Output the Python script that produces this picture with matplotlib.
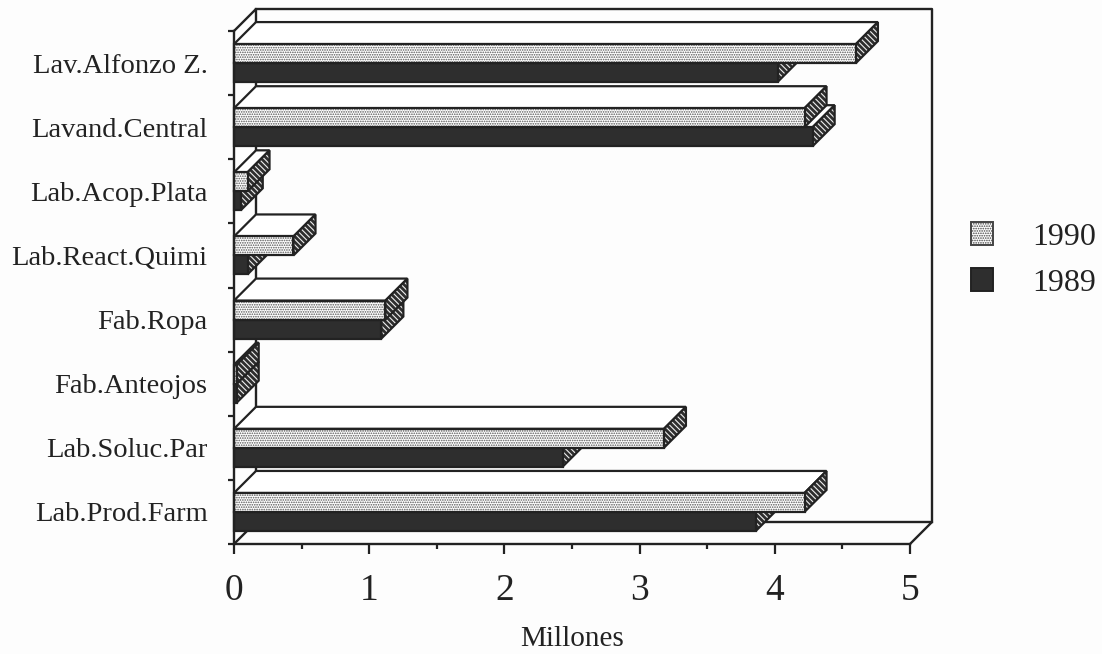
import matplotlib
matplotlib.use('Agg')
import matplotlib.pyplot as plt
from matplotlib.patches import Patch

plt.rcParams['font.family'] = ['Liberation Serif', 'DejaVu Serif']
plt.rcParams['hatch.linewidth'] = 0.8

# de arriba hacia abajo, como en el original
categorias = ['Lav.Alfonzo Z.', 'Lavand.Central', 'Lab.Acop.Plata', 'Lab.React.Quimi',
              'Fab.Ropa', 'Fab.Anteojos', 'Lab.Soluc.Par', 'Lab.Prod.Farm']
valores_1990 = [4.60, 4.22, 0.10, 0.44, 1.12, 0.02, 3.18, 4.22]
valores_1989 = [4.02, 4.28, 0.05, 0.10, 1.09, 0.02, 2.43, 3.86]
ticks_x = [0, 1, 2, 3, 4, 5]

W, H = 1102, 654
IZQ, DER, ARR, ABA = 234, 910, 31, 544
NEGRO = '#222222'
OSCURO = '#2e2e2e'
FONDO = '#fdfdfd'

fig = plt.figure(figsize=(W/100, H/100), dpi=100, facecolor=FONDO)
ax = fig.add_axes([IZQ/W, 1 - ABA/H, (DER-IZQ)/W, (ABA-ARR)/H])
ax.set_xlim(0, 5)
ax.set_ylim(0, 8)
ax.patch.set_visible(False)

# profundidad del efecto 3D, en unidades de datos
dx = 22 / ((DER-IZQ)/5)
dy = 22 / ((ABA-ARR)/8)
alto = 0.296


def linea(xs, ys, lw=1.7, z=1):
    ax.plot(xs, ys, color=NEGRO, lw=lw, clip_on=False, zorder=z, solid_capstyle='projecting')


def caja(v, y0, frente, z):
    y1 = y0 + alto
    # tapa
    ax.fill([0, v, v+dx, dx], [y1, y1, y1+dy, y1+dy], facecolor='white', edgecolor=NEGRO,
            lw=1.6, clip_on=False, zorder=z)
    # costado rayado
    ax.fill([v, v+dx, v+dx, v], [y0, y0+dy, y1+dy, y1], facecolor=OSCURO, edgecolor='#eeeeee',
            hatch='\\\\\\\\\\\\', lw=0, clip_on=False, zorder=z)
    ax.fill([v, v+dx, v+dx, v], [y0, y0+dy, y1+dy, y1], fill=False, edgecolor=NEGRO,
            lw=1.6, clip_on=False, zorder=z)
    # frente
    if frente == 'claro':
        ax.barh(y0, v, height=alto, align='edge', facecolor='white', edgecolor='#555555',
                hatch='.......', lw=0, clip_on=False, zorder=z)
        ax.barh(y0, v, height=alto, align='edge', fill=False, edgecolor=NEGRO, lw=1.6,
                clip_on=False, zorder=z)
    else:
        ax.barh(y0, v, height=alto, align='edge', facecolor=OSCURO, edgecolor=NEGRO, lw=1.6,
                clip_on=False, zorder=z)


# paredes del fondo y piso
linea([dx, 5+dx, 5+dx], [8+dy, 8+dy, dy], z=1)
linea([0, dx, dx], [8, 8+dy, dy], z=1)
linea([0, dx, 5+dx, 5], [0, dy, dy, 0], z=1)

z = 2
for i, nombre in enumerate(categorias):
    centro = 7.5 - i
    caja(valores_1989[i], centro - alto, 'oscuro', z)
    caja(valores_1990[i], centro, 'claro', z + 1)
    z += 2

for lado in ['top', 'right']:
    ax.spines[lado].set_visible(False)
for lado in ['left', 'bottom']:
    ax.spines[lado].set_linewidth(1.7)
    ax.spines[lado].set_color(NEGRO)
    ax.spines[lado].set_zorder(50)

ax.set_xticks(ticks_x)
ax.set_xticks([0.5, 1.5, 2.5, 3.5, 4.5], minor=True)
ax.set_yticks(range(9))
ax.set_yticklabels([])
ax.set_yticks([7.5 - i for i in range(8)], minor=True)
ax.set_yticklabels(categorias, minor=True, fontsize=20.5, color=NEGRO)
ax.tick_params(axis='x', which='major', length=7.5, width=1.6, color=NEGRO, labelsize=27,
               labelcolor=NEGRO, pad=14)
ax.tick_params(axis='x', which='minor', length=3.5, width=1.6, color=NEGRO)
ax.tick_params(axis='y', which='major', length=4.5, width=1.6, color=NEGRO)
ax.tick_params(axis='y', which='minor', length=0, pad=19)
ax.set_xlabel('Millones', fontsize=21, color=NEGRO, labelpad=13)

marcas = [Patch(facecolor='white', edgecolor='#444444', hatch='.......', lw=1.4),
          Patch(facecolor=OSCURO, edgecolor=NEGRO, lw=1.4)]
fig.legend(marcas, ['1990', '1989'], loc='center left', bbox_to_anchor=(971/W, 1 - 260/H),
           frameon=False, fontsize=23, labelcolor=NEGRO, handlelength=0.69, handleheight=0.72,
           handletextpad=1.22, labelspacing=0.5, borderpad=0, borderaxespad=0)

fig.savefig('out.png', dpi=100, facecolor=FONDO)
